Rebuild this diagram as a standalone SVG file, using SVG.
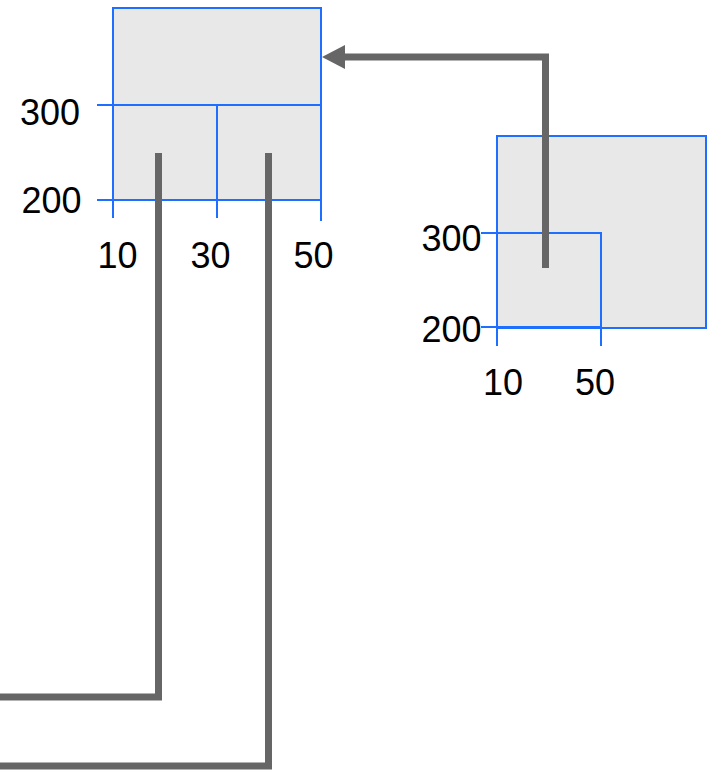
<svg xmlns="http://www.w3.org/2000/svg" width="710" height="770" viewBox="0 0 710 770">
<defs>
<style>
.box{fill:#e8e8e8;stroke:#1e6eff;stroke-width:2}
.ln{fill:none;stroke:#1e6eff;stroke-width:2}
.lbl{font-family:"Liberation Sans",Arial,sans-serif;font-size:36px;fill:#000}
.conn{fill:none;stroke:#666;stroke-width:7;stroke-linejoin:miter}
</style>
<marker id="arr" markerUnits="userSpaceOnUse" markerWidth="23" markerHeight="24" refX="0" refY="12" orient="auto">
<path d="M0,0 L23,12 L0,24 z" fill="#666"/>
</marker>
</defs>
<g id="node-left">
<rect class="box" x="113" y="8" width="208" height="192"/>
<rect class="box" x="113" y="105" width="104" height="95"/>
<rect class="box" x="217" y="105" width="104" height="95"/>
<path class="ln" d="M97,105 H113 M97,200 H113 M113,200 V218 M217,200 V218 M321,200 V221"/>
<text class="lbl" x="80" y="124.5" text-anchor="end">300</text>
<text class="lbl" x="81.5" y="212.5" text-anchor="end">200</text>
<text class="lbl" x="117.5" y="267.5" text-anchor="middle">10</text>
<text class="lbl" x="210.5" y="267.5" text-anchor="middle">30</text>
<text class="lbl" x="313.5" y="267.5" text-anchor="middle">50</text>
</g>
<g id="node-right">
<rect class="box" x="497" y="136" width="209" height="192"/>
<rect class="box" x="497" y="233" width="104" height="94"/>
<path class="ln" d="M481,233 H497 M481,327 H497 M497,327 V346 M601,327 V346"/>
<text class="lbl" x="481.5" y="251.3" text-anchor="end">300</text>
<text class="lbl" x="481.5" y="342.3" text-anchor="end">200</text>
<text class="lbl" x="503" y="395" text-anchor="middle">10</text>
<text class="lbl" x="595" y="395" text-anchor="middle">50</text>
</g>
<g id="connectors">
<path class="conn" d="M545.5,268 V57 H345" marker-end="url(#arr)"/>
<path class="conn" d="M158.5,153 V697 H0"/>
<path class="conn" d="M268.5,153 V766 H0"/>
</g>
</svg>
